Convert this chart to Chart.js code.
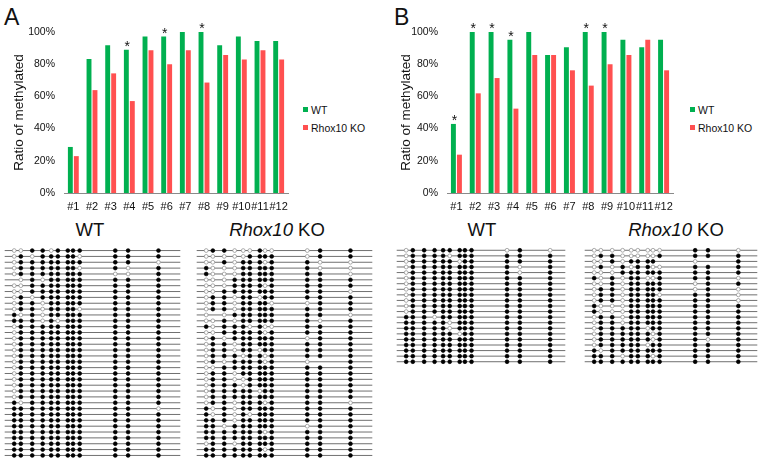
<!DOCTYPE html>
<html>
<head>
<meta charset="utf-8">
<script src="https://cdn.jsdelivr.net/npm/chart.js@4.4.1/dist/chart.umd.min.js"></script>
<style>
  body { margin: 0; width: 762px; height: 462px; background: #fff; position: relative; overflow: hidden;
         font-family: "Liberation Sans", Arial, sans-serif; color: #111; }
  canvas, .txt { position: absolute; }
  .panel { font-size: 23px; line-height: 23px; }
  .title { font-size: 18.5px; line-height: 18px; text-align: center; width: 140px; }
  .leg { font-size: 10.5px; line-height: 12px; height: 12px; }
  .sq { position: absolute; width: 5px; height: 5px; }
</style>
</head>
<body>
<div class="txt panel" style="left:4px; top:6px;">A</div>
<div class="txt panel" style="left:394px; top:6px;">B</div>

<div class="txt leg" style="left:311px; top:104px;">WT</div>
<div class="sq" style="left:303px; top:107px; background:#00B050;"></div>
<div class="txt leg" style="left:311px; top:122px;">Rhox10 KO</div>
<div class="sq" style="left:303px; top:125px; background:#FF5050;"></div>

<div class="txt leg" style="left:698px; top:104px;">WT</div>
<div class="sq" style="left:690px; top:107px; background:#00B050;"></div>
<div class="txt leg" style="left:698px; top:122px;">Rhox10 KO</div>
<div class="sq" style="left:690px; top:125px; background:#FF5050;"></div>

<div class="txt title" style="left:20px; top:221px;">WT</div>
<div class="txt title" style="left:207px; top:221px;"><i>Rhox10</i> KO</div>
<div class="txt title" style="left:412px; top:221px;">WT</div>
<div class="txt title" style="left:606px; top:221px;"><i>Rhox10</i> KO</div>

<canvas id="barA" width="300" height="215" style="left:0; top:0;"></canvas>
<canvas id="barB" width="300" height="215" style="left:385px; top:0;"></canvas>
<canvas id="lolAwt" width="185" height="226" style="left:0; top:240px;"></canvas>
<canvas id="lolAko" width="185" height="226" style="left:192px; top:240px;"></canvas>
<canvas id="lolBwt" width="178" height="132" style="left:392px; top:240px;"></canvas>
<canvas id="lolBko" width="182" height="132" style="left:580px; top:240px;"></canvas>

<script>
const sites = ['#1','#2','#3','#4','#5','#6','#7','#8','#9','#10','#11','#12'];

// ratio of methylated CpG (%)
const wtA = [28.6, 83.3, 91.7, 88.9, 97.2, 97.2, 100, 100, 91.7, 97.2, 94.4, 94.4];
const koA = [22.9, 63.9, 74.3, 57.1, 88.6, 80.0, 88.6, 68.6, 85.7, 82.9, 88.6, 82.9];
const sigA = [0, 0, 0, 1, 0, 1, 0, 1, 0, 0, 0, 0];

const wtB = [42.9, 100, 100, 95.2, 100, 85.7, 90.5, 100, 100, 95.2, 90.5, 95.2];
const koB = [23.8, 61.9, 71.4, 52.4, 85.7, 85.7, 76.2, 66.7, 80.0, 85.7, 95.2, 76.2];
const sigB = [1, 1, 1, 1, 0, 0, 0, 1, 1, 0, 0, 0];

// CpG positions along the amplicon
const cpgPos = [10, 17, 29, 40, 49, 56, 66.5, 72, 79, 116.5, 130, 162];

// clones: 1 = methylated, 0 = unmethylated, - = not determined
const clonesAwt = [
  '001101111111','010111110111','011111111110','011111110101','011111111001','-01011111111',
  '001111111111','001111111111','010111111111','011011111111','011011110111','101011111111',
  '111010111111','011111111111','011111111111','011111111111','011111111111','011111111111',
  '011111111111','011111111111','011111111111','011111111111','011111111111','011111111111',
  '011111111111','011111111111','101111111111','111111111110','111111111111','111111111111',
  '111111111111','111111111111','111111111111','111111111111','111111111111','111111111111'
];
const clonesAko = [
  '011000100011','000001111011','001011101100','100011111100','100011111110','000111111111',
  '000111101111','001111111110','011011011111','011011110011','011011111111','0-0111111110',
  '001011111101','101110100111','001111101111','010111111011','011011111111','011011011111',
  '011101101111','0101111010-1','001111111111','011011111111','011001111111','011101111111',
  '011111011111','011111111111','011011101110','101011111111','101010111111','111011111111',
  '110111111011','111111101111','111111111111','011011111111','111111101111','111111111111'
];
const clonesBwt = [
  '011111111010','011110111111','011111011111','011111111101','011111111101','011111111111',
  '011111111111','011111111111','011111111111','011111111111','011111111111','011111111111',
  '111011111111','111110111111','111110111111','111111011111','111111111111','111111111111',
  '111111111111','111111111111','111111111111'
];
const clonesBko = [
  '000000000110','011000001111','00101111-0-1','010101100111','000111111111','101011001110',
  '001011111011','011011111010','011011110110','011011111110','100011111111','100011111111',
  '011011111111','011011111111','011111011111','011111101111','011111101101','011111011111',
  '101111111111','111011101111','111111111111'
];

const font = '"Liberation Sans", Arial, sans-serif';

// estrelinhas acima das barras do WT
const starPlugin = {
  id: 'stars',
  afterDatasetsDraw(chart, args, opts) {
    const ctx = chart.ctx;
    const meta = chart.getDatasetMeta(0);
    ctx.save();
    ctx.font = '14px ' + font;
    ctx.fillStyle = '#111';
    ctx.textAlign = 'center';
    ctx.textBaseline = 'alphabetic';
    opts.sig.forEach((s, i) => {
      if (!s) return;
      const bar = meta.data[i];
      ctx.fillText('*', bar.x + 1, bar.y + 1);
    });
    ctx.restore();
  }
};

function makeBar(id, wt, ko, sig, yWidth, titlePad) {
  new Chart(document.getElementById(id), {
    type: 'bar',
    data: {
      labels: sites,
      datasets: [
        { label: 'WT', data: wt, backgroundColor: '#00B050' },
        { label: 'Rhox10 KO', data: ko, backgroundColor: '#FF5050' }
      ]
    },
    options: {
      responsive: false,
      animation: false,
      devicePixelRatio: 1,
      layout: { padding: { top: 32, right: 12, left: 0, bottom: 0 } },
      datasets: { bar: { categoryPercentage: 0.64, barPercentage: 0.82 } },
      scales: {
        x: {
          grid: { display: false, drawTicks: false },
          border: { display: true, color: '#8a8a8a' },
          ticks: { color: '#111', font: { family: font, size: 11 }, padding: 7, maxRotation: 0, autoSkip: false },
          afterFit: s => { s.height = 22; }
        },
        y: {
          min: 0, max: 100,
          grid: { display: false, drawTicks: false },
          border: { display: false },
          ticks: { stepSize: 20, color: '#111', font: { family: font, size: 10.5 }, padding: 9,
                   callback: v => v + '%' },
          title: { display: true, text: 'Ratio of methylated', color: '#111',
                   font: { family: font, size: 13.5 }, padding: { top: titlePad, bottom: 0 } },
          afterFit: s => { s.width = yWidth; }
        }
      },
      plugins: { legend: { display: false }, tooltip: { enabled: false }, stars: { sig } }
    },
    plugins: [starPlugin]
  });
}

function makeLollipop(id, clones, lineEnd) {
  const dots = [], fills = [], borders = [];
  clones.forEach((row, i) => {
    for (let j = 0; j < row.length; j++) {
      if (row[j] === '-') continue;
      dots.push({ x: cpgPos[j], y: i });
      fills.push(row[j] === '1' ? '#000' : '#fff');
      borders.push(row[j] === '1' ? '#000' : '#888');
    }
  });
  const datasets = [{
    data: dots, pointRadius: 1.9, pointBackgroundColor: fills, pointBorderColor: borders,
    pointBorderWidth: 0.7, clip: false
  }];
  clones.forEach((row, i) => {
    datasets.push({
      data: [{ x: 0, y: i }, { x: lineEnd, y: i }], showLine: true, pointRadius: 0,
      borderColor: '#707070', borderWidth: 1, clip: false
    });
  });
  new Chart(document.getElementById(id), {
    type: 'scatter',
    data: { datasets },
    options: {
      responsive: false,
      animation: false,
      devicePixelRatio: 1,
      layout: { padding: 0 },
      scales: {
        x: { display: false, min: 0, max: lineEnd },
        y: { display: false, min: -1, max: clones.length, reverse: true }
      },
      plugins: { legend: { display: false }, tooltip: { enabled: false } }
    }
  });
}

makeBar('barA', wtA, koA, sigA, 64, 11);
makeBar('barB', wtB, koB, sigB, 62, 13);
makeLollipop('lolAwt', clonesAwt, 185);
makeLollipop('lolAko', clonesAko, 185);
makeLollipop('lolBwt', clonesBwt, 178);
makeLollipop('lolBko', clonesBko, 182);
</script>
</body>
</html>
